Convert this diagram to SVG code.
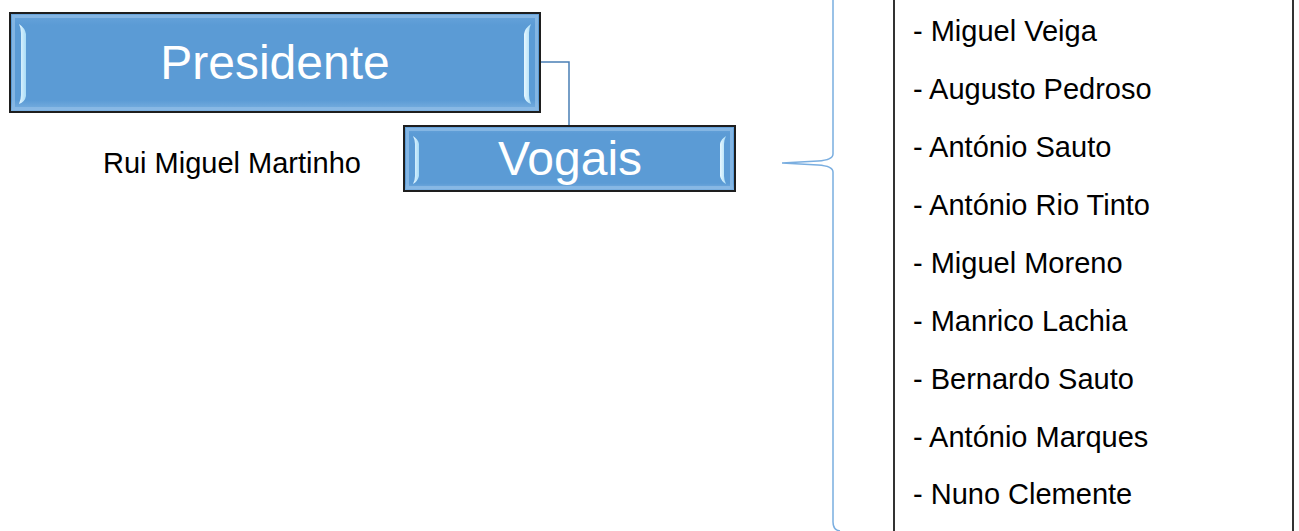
<svg xmlns="http://www.w3.org/2000/svg" width="1299" height="531" viewBox="0 0 1299 531">
  <style>
    .frame { fill: url(#boxFill); stroke: #1e1e1e; stroke-width: 2; }
    .bevel { fill: none; stroke: #8dbbe6; stroke-width: 3; opacity: 0.8; }
    .shine { fill: url(#shineFill); }
    .title { font-family: "Liberation Sans", Arial, sans-serif; fill: #ffffff; text-anchor: middle; }
    .label { font-family: "Liberation Sans", Arial, sans-serif; fill: #000000; }
    .link { fill: none; stroke: #4a7fb5; stroke-width: 1.5; }
    .brace { fill: none; stroke: #7aaee0; stroke-width: 1.5; }
    .list { fill: none; stroke: #333333; stroke-width: 2; }
  </style>
  <defs>
    <linearGradient id="boxFill" x1="0" y1="0" x2="0" y2="1">
      <stop offset="0" stop-color="#6aa5dc"/>
      <stop offset="0.12" stop-color="#5b9bd5"/>
      <stop offset="0.88" stop-color="#5b9bd5"/>
      <stop offset="1" stop-color="#7fb3e2"/>
    </linearGradient>
    <linearGradient id="shineFill" x1="0" y1="0" x2="1" y2="0">
      <stop offset="0" stop-color="#e8f8ff"/>
      <stop offset="1" stop-color="#a9dcf7"/>
    </linearGradient>
  </defs>

  <!-- connectors -->
  <g id="connectors">
    <path class="link" d="M540,62 H569 V126"/>
    <path class="brace" d="M833,-2 V154 Q833,160 818,161 Q800,162 782,163 Q800,164 818,165 Q833,166 833,172 V522 Q833,530 840,531"/>
  </g>

  <!-- Presidente -->
  <g id="node-presidente">
    <rect class="frame" x="10" y="13" width="530" height="99"/>
    <rect class="bevel" x="13.5" y="16.5" width="523" height="92"/>
    <path class="shine" d="M19,24 Q25,28 26,34 V96 Q25,102 19,104 Q21,99 21,95 V33 Q21,28 19,24 Z"/>
    <path class="shine" d="M531,24 Q525,28 524,34 V96 Q525,102 531,104 Q529,99 529,95 V33 Q529,28 531,24 Z"/>
    <text class="title" x="275" y="79" font-size="48">Presidente</text>
  </g>

  <!-- Vogais -->
  <g id="node-vogais">
    <rect class="frame" x="404" y="126" width="331" height="65"/>
    <rect class="bevel" x="407.5" y="129.5" width="324" height="58"/>
    <path class="shine" d="M413,136 Q418,139 419,144 V176 Q418,181 413,184 Q415,180 415,176 V144 Q415,140 413,136 Z"/>
    <path class="shine" d="M726,136 Q721,139 720,144 V176 Q721,181 726,184 Q724,180 724,176 V144 Q724,140 726,136 Z"/>
    <text class="title" x="570" y="175" font-size="48">Vogais</text>
  </g>

  <!-- President name -->
  <g id="node-nome">
    <text class="label" x="103" y="173" font-size="29">Rui Miguel Martinho</text>
  </g>

  <!-- Members list -->
  <g id="node-lista">
    <rect class="list" x="894" y="-5" width="399" height="541"/>
    <g class="label" font-size="29">
      <text x="913" y="40.5">- Miguel Veiga</text>
      <text x="913" y="98.5">- Augusto Pedroso</text>
      <text x="913" y="156.5">- António Sauto</text>
      <text x="913" y="214.5">- António Rio Tinto</text>
      <text x="913" y="272.5">- Miguel Moreno</text>
      <text x="913" y="330.5">- Manrico Lachia</text>
      <text x="913" y="388.5">- Bernardo Sauto</text>
      <text x="913" y="446.5">- António Marques</text>
      <text x="913" y="503.5">- Nuno Clemente</text>
    </g>
  </g>
</svg>
